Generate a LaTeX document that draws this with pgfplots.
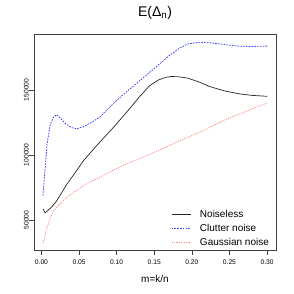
\documentclass[border=0pt]{standalone}
\usepackage{pgfplots}
\pgfplotsset{compat=1.18}
\usepackage{fontspec}
\setmainfont{Liberation Sans}
\begin{document}
\begin{tikzpicture}
\begin{axis}[
  scale only axis, width=242pt, height=216pt,
  xmin=-0.0099, xmax=0.3119, ymin=26900, ymax=193000,
  axis line style={black!75, line width=0.7pt},
  tick style={black!75, line width=0.6pt},
  tick align=outside, major tick length=5pt,
  scaled y ticks=false, scaled x ticks=false,
  xtick={0,0.05,0.1,0.15,0.2,0.25,0.3},
  xticklabels={0.00,0.05,0.10,0.15,0.20,0.25,0.30},
  ytick={50000,100000,150000},
  yticklabels={50000,100000,150000},
  xtick pos=bottom, ytick pos=left,
  xticklabel shift=5pt,
  xticklabel style={font=\fontsize{6.7}{7}\selectfont, inner sep=0pt, anchor=north},
  yticklabel style={font=\fontsize{6.7}{7}\selectfont, inner sep=0pt, rotate=90, anchor=south},
  title={E(Δ\textsubscript{n})},
  title style={font=\fontsize{14}{16}\selectfont, at={(0.5,1)}, anchor=base, yshift=11.7pt},
  xlabel={m=k/n},
  xlabel style={font=\fontsize{10}{12}\selectfont, at={(0.5,0)}, anchor=base, yshift=-32.3pt},
  legend style={draw=none, fill=none, at={(0.566,0.196)}, anchor=north west,
    font=\fontsize{10}{12}\selectfont, row sep=1.2pt, inner sep=0pt},
  legend cell align=left,
  legend image code/.code={\draw[#1] (0pt,0pt) -- (19pt,0pt); \path (26pt,0pt);},
]
\addplot[black!85, line width=0.7pt] coordinates {
(0.002,58500) (0.005,55400) (0.008,57000) (0.014,60200) (0.020,64500)
(0.027,71000) (0.034,77700) (0.045,86500) (0.056,95600) (0.067,103000)
(0.0775,109800) (0.096,121300) (0.117,135400) (0.130,144500) (0.144,153300)
(0.155,157500) (0.165,159600) (0.172,160300) (0.180,160200) (0.188,159700)
(0.195,159000) (0.210,156000) (0.224,152500) (0.245,149000) (0.264,146900)
(0.280,145800) (0.300,145100)};
\addlegendentry{Noiseless}
\addplot[blue!75!white, line width=0.8pt, dash pattern=on 1.6pt off 1.2pt] coordinates {
(0.002,68700) (0.0075,108500) (0.012,123800) (0.016,129000) (0.020,131000)
(0.025,128500) (0.032,124000) (0.040,121000) (0.047,120200) (0.055,121500)
(0.065,124500) (0.0775,129000) (0.096,139800) (0.113,148500) (0.131,157200)
(0.150,166500) (0.168,175500) (0.184,182300) (0.195,185400) (0.210,186700)
(0.225,186200) (0.237,185400) (0.250,184400) (0.264,183600) (0.280,183400)
(0.300,183700)};
\addlegendentry{Clutter noise}
\addplot[red!45!white, line width=0.8pt, dash pattern=on 1.2pt off 1.2pt] coordinates {
(0.002,32100) (0.0075,44400) (0.012,51500) (0.016,57200) (0.025,62500)
(0.034,67500) (0.045,72000) (0.056,76400) (0.0775,82800) (0.096,88500)
(0.115,93500) (0.135,98200) (0.160,104500) (0.184,111000) (0.195,113600)
(0.220,120000) (0.2415,126400) (0.270,133000) (0.300,140000)};
\addlegendentry{Gaussian noise}
\end{axis}
\pgfresetboundingbox
\path ([xshift=-34pt,yshift=-44pt]current axis.south west) rectangle ([xshift=18pt,yshift=34pt]current axis.north east);
\end{tikzpicture}
\end{document}
